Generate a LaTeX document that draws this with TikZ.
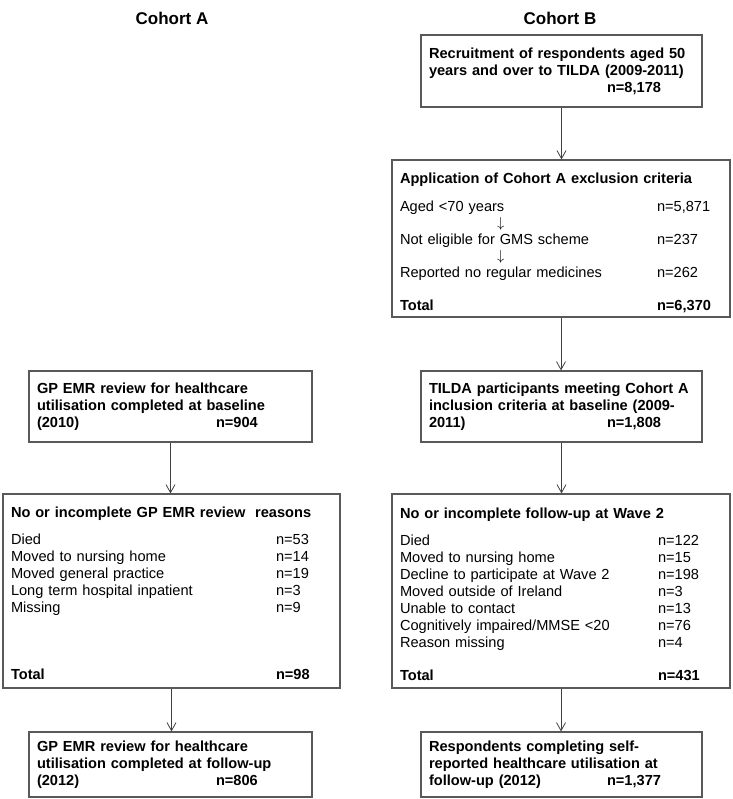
\documentclass[tikz,border=0pt]{standalone}
\usepackage{fontspec}
\setmainfont{Liberation Sans}
\usetikzlibrary{arrows.meta}
\newcommand{\nrow}[3]{\makebox[#1][l]{#2}#3}

\begin{document}
\begin{tikzpicture}[x=1pt, y=-1pt, every node/.style={font=\fontsize{14.6}{17}\selectfont}, >={Straight Barb[length=8pt, width=9pt]}, box/.style={draw=black!65, line width=1.2pt, inner xsep=8pt, inner ysep=0pt, align=left}, bbox/.style={box, font=\fontsize{14.6}{17}\selectfont\bfseries}, hd/.style={font=\fontsize{17}{20}\selectfont\bfseries}]
	\useasboundingbox (0,0) rectangle (732,799);
	\node[hd] (ta) at (172,18) {Cohort A};
	\node[hd] (tb) at (560,18) {Cohort B};
	\node[bbox, text width=265pt, minimum height=72pt] (rec) at (561.5,71) {Recruitment of respondents aged 50\\ years and over to TILDA (2009-2011)\\ \nrow{178pt}{}{n=8,178}};
	\node[box, text width=322pt, minimum height=157pt] (excl) at (561,238.5) {\rule{0pt}{19pt}\textbf{Application of Cohort A exclusion criteria}\\[11pt] \nrow{257pt}{Aged <70 years}{n=5,871}\\[-0.5pt] \hspace*{97pt}$\downarrow$\\[-0.5pt] \nrow{257pt}{Not eligible for GMS scheme}{n=237}\\[-0.5pt] \hspace*{97pt}$\downarrow$\\[-0.5pt] \nrow{257pt}{Reported no regular medicines}{n=262}\\[16pt] \textbf{\nrow{257pt}{Total}{n=6,370}}};
	\node[bbox, text width=267pt, minimum height=71pt] (base) at (170.5,406.5) {GP EMR review for healthcare\\ utilisation completed at baseline\\ \nrow{179pt}{(2010)}{n=904}};
	\node[bbox, text width=265pt, minimum height=71pt] (incl) at (561.5,406.5) {TILDA participants meeting Cohort A\\ inclusion criteria at baseline (2009-\\ \nrow{178pt}{2011)}{n=1,808}};
	\node[box, text width=321pt, minimum height=194pt] (lossa) at (171.5,591) {\rule{0pt}{16pt}\textbf{No or incomplete GP EMR review~~reasons}\\[10pt] \nrow{265pt}{Died}{n=53}\\ \nrow{265pt}{Moved to nursing home}{n=14}\\ \nrow{265pt}{Moved general practice}{n=19}\\ \nrow{265pt}{Long term hospital inpatient}{n=3}\\ \nrow{265pt}{Missing}{n=9}\\[50pt] \textbf{\nrow{265pt}{Total}{n=98}}};
	\node[box, text width=322pt, minimum height=194pt] (lossb) at (561,591) {\rule{0pt}{17pt}\textbf{No or incomplete follow-up at Wave 2}\\[10pt] \nrow{258pt}{Died}{n=122}\\ \nrow{258pt}{Moved to nursing home}{n=15}\\ \nrow{258pt}{Decline to participate at Wave 2}{n=198}\\ \nrow{258pt}{Moved outside of Ireland}{n=3}\\ \nrow{258pt}{Unable to contact}{n=13}\\ \nrow{258pt}{Cognitively impaired/MMSE <20}{n=76}\\ \nrow{258pt}{Reason missing}{n=4}\\[16pt] \textbf{\nrow{258pt}{Total}{n=431}}};
	\node[bbox, text width=267pt, minimum height=65pt] (fup) at (170.5,764.5) {GP EMR review for healthcare\\ utilisation completed at follow-up\\ \nrow{179pt}{(2012)}{n=806}};
	\node[bbox, text width=265pt, minimum height=65pt] (selfr) at (561.5,764.5) {Respondents completing self-\\ reported healthcare utilisation at\\ \nrow{178pt}{follow-up (2012)}{n=1,377}};
	\foreach \a/\b in {rec/excl, excl/incl, incl/lossb, lossb/selfr, base/lossa, lossa/fup} {\draw[->, draw=black!75, line width=0.8pt] (\a.south) -- (\a.south |- \b.north);}
\end{tikzpicture}
\end{document}
